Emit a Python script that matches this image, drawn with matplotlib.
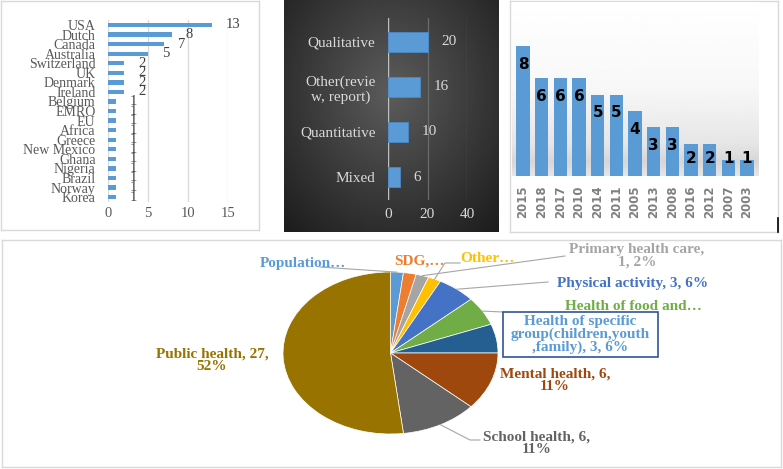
import numpy as np
import matplotlib
matplotlib.use("Agg")
import matplotlib.pyplot as plt
from matplotlib.patches import Rectangle
from matplotlib.lines import Line2D

plt.rcParams["font.family"] = ["Liberation Serif", "DejaVu Serif"]

# --- data ---
countries = ["USA", "Dutch", "Canada", "Australia", "Switzerland", "UK", "Denmark",
             "Ireland", "Belgium", "EMRO", "EU", "Africa", "Greece", "New Mexico",
             "Ghana", "Nigeria", "Brazil", "Norway", "Korea"]
country_counts = [13, 8, 7, 5, 2, 2, 2, 2, 1, 1, 1, 1, 1, 1, 1, 1, 1, 1, 1]

methods = ["Qualitative", "Other(revie\nw, report)", "Quantitative", "Mixed"]
method_counts = [20, 16, 10, 6]

years = ["2015", "2018", "2017", "2010", "2014", "2011", "2005", "2013", "2008",
         "2016", "2012", "2007", "2003"]
year_counts = [8, 6, 6, 6, 5, 5, 4, 3, 3, 2, 2, 1, 1]

topics = ["Population", "SDG", "Primary health care", "Other", "Physical activity",
          "Health of food and", "Health of specific group", "Mental health",
          "School health", "Public health"]
topic_counts = [1, 1, 1, 1, 3, 3, 3, 6, 6, 27]
topic_labels = ["Population…", "SDG,…", "Primary health care,\n1, 2%", "Other…",
                "Physical activity, 3, 6%", "Health of food and…",
                "Health of specific\ngroup(children,youth\n,family), 3, 6%",
                "Mental health, 6,\n11%", "School health, 6,\n11%",
                "Public health, 27,\n52%"]
topic_colors = ["#5B9BD5", "#ED7D31", "#A5A5A5", "#FFC000", "#4472C4", "#70AD47",
                "#255E91", "#9E480E", "#636363", "#997300"]

W, H = 783, 469
fig = plt.figure(figsize=(W / 100, H / 100), dpi=100)


def frac(x0, y0, x1, y1):
    return [x0 / W, 1 - y1 / H, (x1 - x0) / W, (y1 - y0) / H]


def panel(x0, y0, x1, y1, face="white", edge="#D9D9D9"):
    ax = fig.add_axes(frac(x0, y0, x1, y1), zorder=0)
    ax.set_facecolor(face)
    ax.set_xticks([])
    ax.set_yticks([])
    for s in ax.spines.values():
        s.set_color(edge)
        s.set_linewidth(1)
    return ax


BLUE = "#5B9BD5"

# --- top left: countries ---
panel(1, 1, 259, 230)
ax1 = fig.add_axes(frac(108, 20.2, 228, 201.9), zorder=1)
ax1.set_facecolor("none")
pos = np.arange(len(countries))
ax1.barh(pos, country_counts, height=0.45, color=BLUE, zorder=2)
ax1.set_ylim(len(countries) - 0.5, -0.5)
ax1.set_xlim(0, 15)
ax1.set_xticks([0, 5, 10, 15])
ax1.set_yticks(pos)
ax1.set_yticklabels(countries)
ax1.tick_params(length=0, labelsize=10, labelcolor="#595959")
ax1.tick_params(axis="y", pad=9)
ax1.tick_params(axis="x", pad=4, labelsize=10.5)
ax1.grid(axis="x", color="#D9D9D9", lw=0.9)
ax1.set_axisbelow(True)
for s in ax1.spines.values():
    s.set_visible(False)
for i, v in enumerate(country_counts):
    ax1.annotate(str(v), (v, i), xytext=(10, 0), textcoords="offset points",
                 ha="left", va="center", fontsize=10.5, color="#404040")

# --- top middle: methods on dark panel ---
bg = panel(284, 0, 498, 232, edge="none")
gy, gx = np.mgrid[-1:1:200j, -1:1:200j]
r = np.sqrt((gx * 1.0) ** 2 + ((gy + 0.2) * 0.9) ** 2)
grad = 0.36 - 0.17 * r
bg.imshow(grad, extent=[0, 1, 0, 1], aspect="auto", cmap="gray", vmin=0, vmax=1)
bg.set_xlim(0, 1)
bg.set_ylim(0, 1)
for s in bg.spines.values():
    s.set_visible(False)

ax2 = fig.add_axes(frac(388, 18, 467, 200), zorder=1)
ax2.set_facecolor("none")
mpos = np.arange(len(methods))
ax2.barh(mpos, method_counts, height=0.43, color=BLUE, edgecolor="#4A88C8",
         lw=0.6, zorder=3)
ax2.set_ylim(3.51, -0.53)
ax2.set_xlim(0, 40)
ax2.set_xticks([0, 20, 40])
ax2.set_yticks(mpos)
ax2.set_yticklabels(methods, multialignment="center")
ax2.tick_params(length=0, labelsize=11, labelcolor="#D9D9D9")
ax2.tick_params(axis="y", pad=9)
ax2.tick_params(axis="x", pad=6)
ax2.grid(axis="x", color="#6A6A6A", lw=0.9)
ax2.axvline(0, color="#BFBFBF", lw=1, zorder=2)
ax2.set_axisbelow(True)
for s in ax2.spines.values():
    s.set_visible(False)
for i, v in enumerate(method_counts):
    ax2.annotate(str(v), (v, i), xytext=(10, 0), textcoords="offset points",
                 ha="left", va="center", fontsize=11, color="#D9D9D9")

# --- top right: years ---
panel(510, 1, 778, 232)
ax3 = fig.add_axes(frac(511.8, 2, 758.2, 176), zorder=1)
ytop = 174 / 16.25
rows = np.linspace(0, 1, 200)
shade = np.interp(rows, [0, 0.5, 0.82, 0.92, 1.0], [1.0, 0.97, 0.9, 0.84, 0.9])
ax3.imshow(shade[:, None], extent=[-0.6, 12.6, 0, ytop], aspect="auto",
           cmap="gray", vmin=0, vmax=1, zorder=0)
ypos = np.arange(len(years))
ax3.bar(ypos, year_counts, width=0.7, color=BLUE, zorder=2)
ax3.set_xlim(-0.6, 12.6)
ax3.set_ylim(0, ytop)
ax3.set_yticks([])
ax3.set_xticks(ypos)
ax3.set_xticklabels(years, rotation=90, family="DejaVu Sans", fontweight="bold")
ax3.tick_params(length=0, labelsize=8.5, labelcolor="#808080", pad=7)
for s in ax3.spines.values():
    s.set_visible(False)
for i, v in enumerate(year_counts):
    ax3.text(i, max(v - 1.12, 1.05), str(v), ha="center", va="center",
             fontsize=11, fontweight="bold", family="DejaVu Sans",
             color="black", zorder=3)
fig.add_artist(Line2D([778 / W, 778 / W], [1 - 218 / H, 1 - 232 / H],
                      color="black", lw=1.2))

# --- bottom: pie ---
panel(2, 240, 781, 467)
ax4 = fig.add_axes(frac(2, 240, 781, 467), zorder=1)
ax4.set_facecolor("none")
CX, CY, RX, RY = 390.5, 353, 107.5, 81


def pd(px, py):
    return ((px - CX) / RX, (CY - py) / RY)


wedges, _ = ax4.pie(topic_counts, colors=topic_colors, startangle=90,
                    counterclock=False,
                    wedgeprops=dict(edgecolor="white", linewidth=0.5))
ax4.set_aspect("auto")
ax4.set_xlim(pd(2, 0)[0], pd(781, 0)[0])
ax4.set_ylim(pd(0, 467)[1], pd(0, 240)[1])
ax4.axis("off")

label_xy = [(303, 263), (419, 261), (637, 256), (487, 259), (633, 283),
            (633, 307), (580.5, 334.5), (555, 380), (537, 443), (212, 360)]
leaders = {0: [(320, 267)], 2: [(565, 256)], 3: [(445, 263), (460, 263)],
           4: [(548, 282)], 5: [(503, 312)], 8: [(470, 440), (480, 440)]}
for i, w in enumerate(wedges):
    if i in leaders:
        mid = np.deg2rad((w.theta1 + w.theta2) / 2)
        pts = [(np.cos(mid), np.sin(mid))] + [pd(*p) for p in leaders[i]]
        ax4.plot([p[0] for p in pts], [p[1] for p in pts], color="#A6A6A6",
                 lw=0.8, zorder=2)

bx0, by0 = pd(503, 357)
ax4.add_patch(Rectangle((bx0, by0), (658 - 503) / RX, (357 - 312) / RY,
                        facecolor="white", edgecolor="#2F5597", lw=1.2, zorder=3))

for i, (lab, (x, y)) in enumerate(zip(topic_labels, label_xy)):
    c = BLUE if i == 6 else topic_colors[i]
    ax4.text(*pd(x, y), lab, ha="center", va="center", fontsize=11,
             fontweight="bold", color=c, linespacing=0.98, zorder=4)

fig.savefig("out.png", dpi=100)
